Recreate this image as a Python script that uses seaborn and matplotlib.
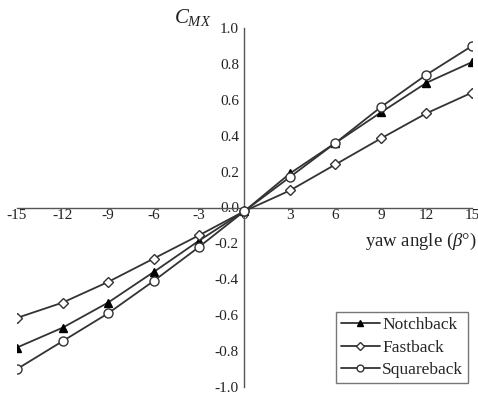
import matplotlib
matplotlib.use("Agg")
import matplotlib.pyplot as plt
import seaborn as sns
import pandas as pd
from matplotlib.ticker import FormatStrFormatter

yaw = [-15, -12, -9, -6, -3, 0, 3, 6, 9, 12, 15]
notchback = [-0.78, -0.67, -0.53, -0.36, -0.185, -0.02, 0.19, 0.36, 0.53, 0.695, 0.81]
fastback = [-0.615, -0.53, -0.415, -0.285, -0.155, -0.02, 0.095, 0.24, 0.385, 0.525, 0.64]
squareback = [-0.90, -0.745, -0.59, -0.41, -0.22, -0.02, 0.17, 0.36, 0.56, 0.74, 0.90]
series_names = ["Notchback", "Fastback", "Squareback"]
x_ticks = [-15, -12, -9, -6, -3, 0, 3, 6, 9, 12, 15]
y_ticks = [-1.0, -0.8, -0.6, -0.4, -0.2, 0.0, 0.2, 0.4, 0.6, 0.8, 1.0]

sns.set_theme(style="white")
plt.rcParams["font.family"] = ["Liberation Serif", "DejaVu Serif"]
plt.rcParams["mathtext.fontset"] = "custom"
plt.rcParams["mathtext.rm"] = "Liberation Serif"
plt.rcParams["mathtext.it"] = "Liberation Serif:italic"
plt.rcParams["axes.unicode_minus"] = False

df = pd.DataFrame({
    "yaw": yaw * 3,
    "cmx": notchback + fastback + squareback,
    "body": [series_names[0]] * len(yaw) + [series_names[1]] * len(yaw) + [series_names[2]] * len(yaw),
})

fig = plt.figure(figsize=(4.78, 3.94), dpi=100)
ax = fig.add_axes([17 / 478, 7 / 394, 455 / 478, 359 / 394])

line_col = "#333333"
styles = {
    "Notchback": dict(marker="^", mfc="black", mec="black", ms=6),
    "Fastback": dict(marker="D", mfc="white", mec="#333333", ms=5.5),
    "Squareback": dict(marker="o", mfc="white", mec="#333333", ms=6.5),
}
for name in series_names:
    st = styles[name]
    sns.lineplot(data=df[df["body"] == name], x="yaw", y="cmx", ax=ax,
                 color=line_col, linewidth=1.3, marker=st["marker"],
                 markerfacecolor=st["mfc"], markeredgecolor=st["mec"],
                 markeredgewidth=1.0, markersize=st["ms"], label=name,
                 zorder=3)

ax.set_xlim(-15, 15)
ax.set_ylim(-1.0, 1.0)
ax.spines["left"].set_position(("data", 0))
ax.spines["bottom"].set_position(("data", 0))
ax.spines["right"].set_visible(False)
ax.spines["top"].set_visible(False)
for s in ["left", "bottom"]:
    ax.spines[s].set_color("#555555")
    ax.spines[s].set_linewidth(1.0)

ax.set_xticks(x_ticks)
ax.set_yticks(y_ticks)
ax.yaxis.set_major_formatter(FormatStrFormatter("%.1f"))
ax.set_xticklabels([str(t) for t in x_ticks])
ax.tick_params(axis="x", direction="in", length=5, width=1, color="#555555",
               labelsize=11, pad=1, labelcolor="#222222")
ax.tick_params(axis="y", direction="in", length=5, width=1, color="#555555",
               labelsize=11, pad=4, labelcolor="#222222")
ax.set_xlabel("")
ax.set_ylabel("")

ax.text(15.3, -0.19, r"yaw angle ($\beta$°)", ha="right", va="center",
        fontsize=13.5, color="#222222")
ax.text(-2.2, 1.06, r"$C_{MX}$", ha="right", va="center",
        fontsize=15, color="#222222")

leg = ax.legend(loc="lower right", bbox_to_anchor=(0.992, 0.011), frameon=True,
                fancybox=False, fontsize=12.5, handlelength=2.2,
                handletextpad=0.15, borderpad=0.3, labelspacing=0.35,
                borderaxespad=0.0, markerscale=0.75)
leg.get_frame().set_edgecolor("#555555")
leg.get_frame().set_linewidth(1.0)

fig.savefig("out.png", dpi=100, facecolor="white")
